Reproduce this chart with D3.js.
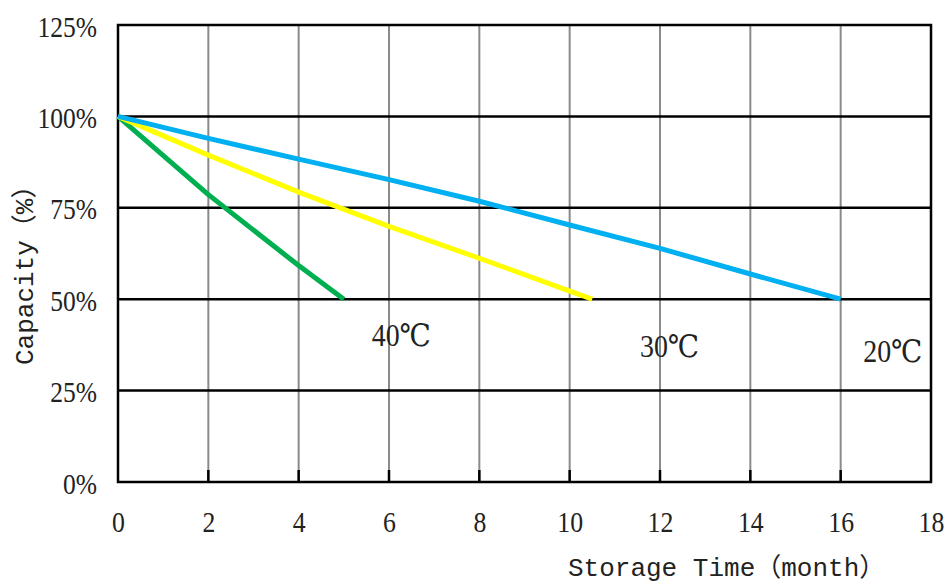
<!DOCTYPE html>
<html>
<head>
<meta charset="utf-8">
<script src="https://cdn.jsdelivr.net/npm/d3@7"></script>
<style>
  body { margin: 0; background: #fff; }
  svg { display: block; }
</style>
</head>
<body>
<div id="graph-holder"></div>
<script>
// values
var xTicks = [0, 2, 4, 6, 8, 10, 12, 14, 16, 18];
var yTicks = [0, 25, 50, 75, 100, 125];
var seriesNames = ["40℃", "30℃", "20℃"];
var months40 = [0, 2, 4, 5];
var cap40 = [100, 78.6, 59.2, 50];
var months30 = [0, 2, 4, 6, 8, 10, 10.5];
var cap30 = [100, 89.4, 79.3, 69.9, 61.2, 52.2, 50];
var months20 = [0, 2, 4, 6, 8, 10, 12, 14, 16];
var cap20 = [100, 94, 88.3, 82.7, 76.8, 70.3, 63.9, 56.9, 50];
// label anchors in chart units (month, %)
var labelMonth = [5.62, 11.56, 16.5];
var labelCap = [37.2, 34.3, 32.9];

var colors = ["#00B050", "#FFFF00", "#00B0F0"];

function zip(ms, cs) {
  return ms.map(function(m, i) {
    return { month: m, cap: cs[i] };
  });
}
var series = [zip(months40, cap40), zip(months30, cap30), zip(months20, cap20)];

function drawChart() {
  var margin = { top: 25, right: 18, bottom: 102, left: 118 },
    width = 949 - margin.left - margin.right,
    height = 584 - margin.top - margin.bottom;

  var x = d3.scaleLinear().domain([0, 18]).range([0, width]);
  var y = d3.scaleLinear().domain([0, 125]).range([height, 0]);

  var svg = d3
    .select("#graph-holder")
    .append("svg")
    .attr("width", 949)
    .attr("height", 584)
    .append("g")
    .attr("transform", "translate(" + margin.left + "," + margin.top + ")");

  var serif = "'Liberation Serif', 'DejaVu Serif', serif";
  var mono = "'Liberation Mono', 'Noto Sans CJK SC', monospace";

  // vertical grid (gray)
  svg
    .selectAll(".vgrid")
    .data(xTicks.slice(1, -1))
    .enter()
    .append("line")
    .attr("x1", function(d) { return x(d); })
    .attr("x2", function(d) { return x(d); })
    .attr("y1", 0)
    .attr("y2", height)
    .attr("stroke", "#8a8a8a")
    .attr("stroke-width", 2);

  // small black ticks at the bottom
  svg
    .selectAll(".btick")
    .data(xTicks.slice(1, -1))
    .enter()
    .append("line")
    .attr("x1", function(d) { return x(d); })
    .attr("x2", function(d) { return x(d); })
    .attr("y1", height - 12)
    .attr("y2", height)
    .attr("stroke", "#000")
    .attr("stroke-width", 2.5);

  // horizontal grid (black)
  svg
    .selectAll(".hgrid")
    .data(yTicks.slice(1, -1))
    .enter()
    .append("line")
    .attr("x1", 0)
    .attr("x2", width)
    .attr("y1", function(d) { return y(d); })
    .attr("y2", function(d) { return y(d); })
    .attr("stroke", "#000")
    .attr("stroke-width", 2.5);

  // frame
  svg
    .append("rect")
    .attr("x", 0)
    .attr("y", 0)
    .attr("width", width)
    .attr("height", height)
    .attr("fill", "none")
    .attr("stroke", "#000")
    .attr("stroke-width", 2.5);

  // X axis
  var xAxis = svg
    .append("g")
    .attr("transform", "translate(0," + height + ")")
    .call(d3.axisBottom(x).tickValues(xTicks).tickSize(0));
  xAxis.select(".domain").remove();
  xAxis
    .selectAll("text")
    .attr("dy", null)
    .attr("y", 50)
    .attr("fill", "#222")
    .style("font-family", serif)
    .style("font-size", "30px")
    .style("transform-box", "fill-box")
    .style("transform-origin", "50% 50%")
    .style("transform", "scaleX(0.86)");

  // Y axis
  var yAxis = svg
    .append("g")
    .call(
      d3.axisLeft(y)
        .tickValues(yTicks)
        .tickSize(0)
        .tickPadding(21)
        .tickFormat(function(d) { return d + "%"; })
    );
  yAxis.select(".domain").remove();
  yAxis
    .selectAll("text")
    .attr("dy", "0.37em")
    .attr("fill", "#222")
    .style("font-family", serif)
    .style("font-size", "30px")
    .style("transform-box", "fill-box")
    .style("transform-origin", "100% 50%")
    .style("transform", "scaleX(0.85)");

  // axis titles
  svg
    .append("text")
    .text("Storage Time（month）")
    .attr("x", 568 - margin.left)
    .attr("y", 576 - margin.top)
    .attr("fill", "#222")
    .style("font-family", mono)
    .style("font-size", "26px");

  svg
    .append("text")
    .text("Capacity（%）")
    .attr("transform", "translate(" + (33 - margin.left) + "," + (365 - margin.top) + ") rotate(-90)")
    .attr("fill", "#222")
    .style("font-family", mono)
    .style("font-size", "26px");

  // the lines
  var valueline = d3
    .line()
    .x(function(d) { return x(d.month); })
    .y(function(d) { return y(d.cap); });

  svg
    .selectAll(".series")
    .data(series)
    .enter()
    .append("path")
    .attr("d", valueline)
    .attr("fill", "none")
    .attr("stroke", function(d, i) { return colors[i]; })
    .attr("stroke-width", 5)
    .attr("stroke-linejoin", "round");

  // temperature labels
  svg
    .selectAll(".lbl")
    .data(seriesNames)
    .enter()
    .append("text")
    .text(function(d) { return d; })
    .attr("x", function(d, i) { return x(labelMonth[i]); })
    .attr("y", function(d, i) { return y(labelCap[i]); })
    .attr("fill", "#222")
    .style("font-family", serif)
    .style("font-size", "31px")
    .style("transform-box", "fill-box")
    .style("transform-origin", "0% 50%")
    .style("transform", "scaleX(0.9)");
}

drawChart();
</script>
</body>
</html>
